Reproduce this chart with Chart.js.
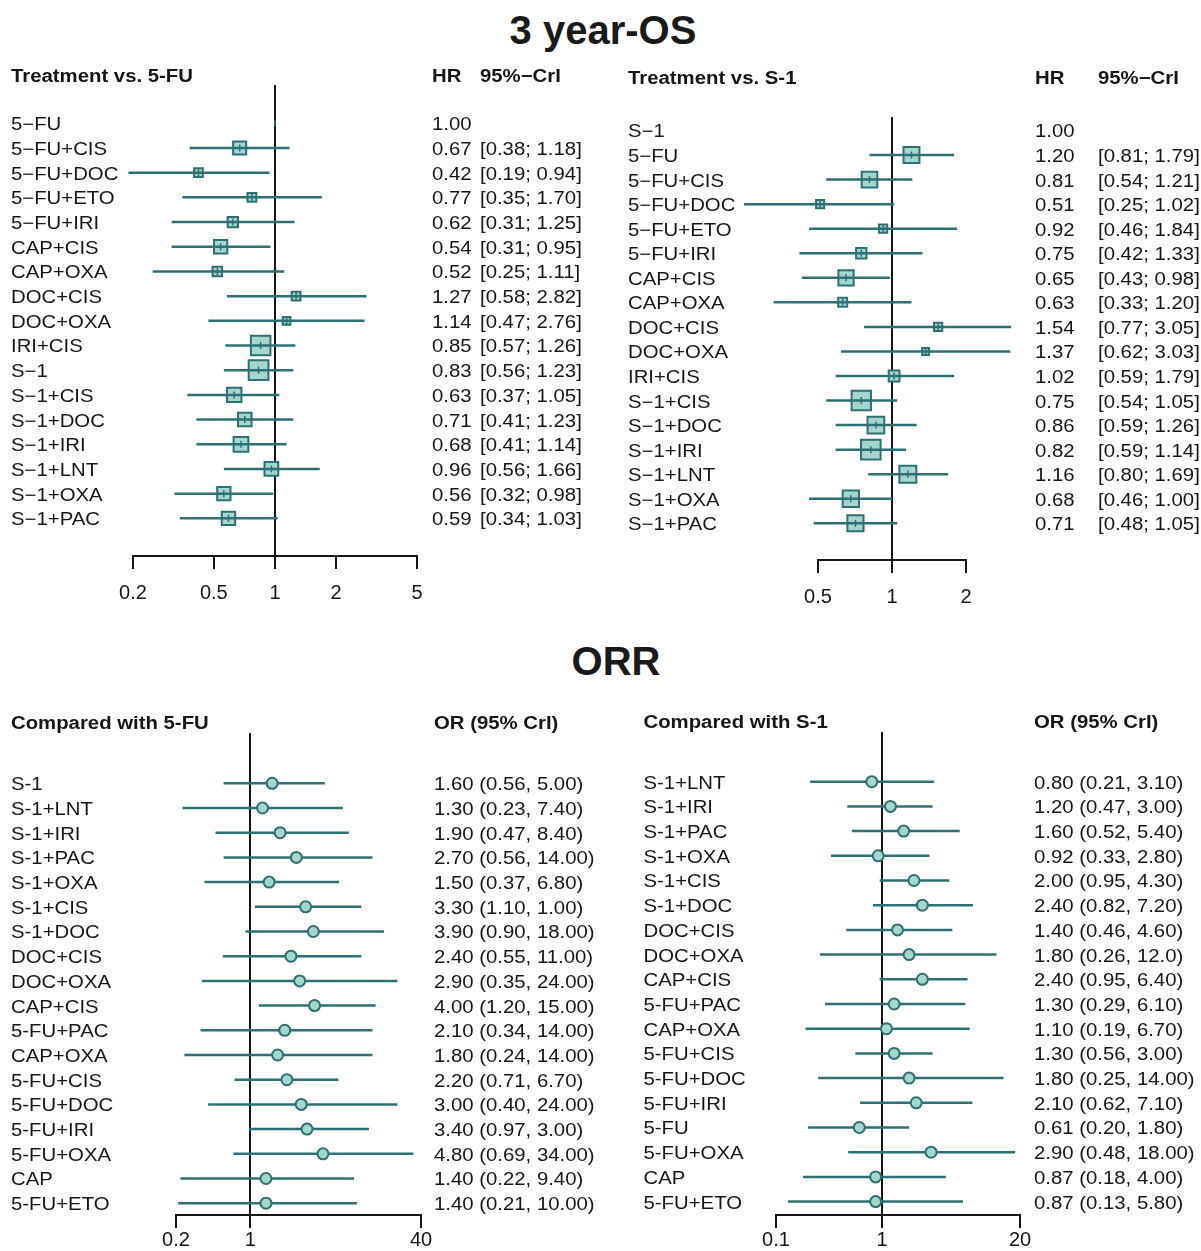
<!DOCTYPE html>
<html><head><meta charset="utf-8">
<script src="https://cdn.jsdelivr.net/npm/chart.js@4.4.1/dist/chart.umd.min.js"></script>
<style>
html,body{margin:0;padding:0;background:#fff;overflow:hidden;width:1201px;height:1251px;}
.title{position:absolute;font-family:"Liberation Sans",Arial,Helvetica,sans-serif;font-weight:bold;font-size:40px;line-height:40px;color:#1a1a1a;white-space:nowrap;transform:translateX(-50%);}
canvas{position:absolute;}
</style></head><body>
<div class="title" style="left:603px;top:10px">3 year-OS</div>
<div class="title" style="left:616px;top:641px">ORR</div>
<canvas id="osFu" width="600" height="556" style="left:0;top:60px"></canvas>
<canvas id="osS1" width="601" height="560" style="left:600px;top:60px"></canvas>
<canvas id="orrFu" width="600" height="561" style="left:0;top:690px"></canvas>
<canvas id="orrS1" width="601" height="561" style="left:600px;top:690px"></canvas>
<script>
// ---------- DATA ----------
// 3 year-OS: Treatment vs. 5-FU
const osFuLabels = ['5−FU','5−FU+CIS','5−FU+DOC','5−FU+ETO','5−FU+IRI','CAP+CIS','CAP+OXA','DOC+CIS','DOC+OXA','IRI+CIS','S−1','S−1+CIS','S−1+DOC','S−1+IRI','S−1+LNT','S−1+OXA','S−1+PAC'];
const osFuHR   = [1.00,0.67,0.42,0.77,0.62,0.54,0.52,1.27,1.14,0.85,0.83,0.63,0.71,0.68,0.96,0.56,0.59];
const osFuLow  = [null,0.38,0.19,0.35,0.31,0.31,0.25,0.58,0.47,0.57,0.56,0.37,0.41,0.41,0.56,0.32,0.34];
const osFuHigh = [null,1.18,0.94,1.70,1.25,0.95,1.11,2.82,2.76,1.26,1.23,1.05,1.23,1.14,1.66,0.98,1.03];
const osFuTicks = [0.2,0.5,1,2,5];

// 3 year-OS: Treatment vs. S-1
const osS1Labels = ['S−1','5−FU','5−FU+CIS','5−FU+DOC','5−FU+ETO','5−FU+IRI','CAP+CIS','CAP+OXA','DOC+CIS','DOC+OXA','IRI+CIS','S−1+CIS','S−1+DOC','S−1+IRI','S−1+LNT','S−1+OXA','S−1+PAC'];
const osS1HR   = [1.00,1.20,0.81,0.51,0.92,0.75,0.65,0.63,1.54,1.37,1.02,0.75,0.86,0.82,1.16,0.68,0.71];
const osS1Low  = [null,0.81,0.54,0.25,0.46,0.42,0.43,0.33,0.77,0.62,0.59,0.54,0.59,0.59,0.80,0.46,0.48];
const osS1High = [null,1.79,1.21,1.02,1.84,1.33,0.98,1.20,3.05,3.03,1.79,1.05,1.26,1.14,1.69,1.00,1.05];
const osS1Ticks = [0.5,1,2];

// ORR: Compared with 5-FU
const orrFuLabels = ['S-1','S-1+LNT','S-1+IRI','S-1+PAC','S-1+OXA','S-1+CIS','S-1+DOC','DOC+CIS','DOC+OXA','CAP+CIS','5-FU+PAC','CAP+OXA','5-FU+CIS','5-FU+DOC','5-FU+IRI','5-FU+OXA','CAP','5-FU+ETO'];
const orrFuOR   = [1.60,1.30,1.90,2.70,1.50,3.30,3.90,2.40,2.90,4.00,2.10,1.80,2.20,3.00,3.40,4.80,1.40,1.40];
const orrFuLow  = [0.56,0.23,0.47,0.56,0.37,1.10,0.90,0.55,0.35,1.20,0.34,0.24,0.71,0.40,0.97,0.69,0.22,0.21];
const orrFuHigh = [5.00,7.40,8.40,14.00,6.80,11.0,18.00,11.00,24.00,15.00,14.00,14.00,6.70,24.00,13.0,34.00,9.40,10.00];
const orrFuText = ['1.60 (0.56, 5.00)','1.30 (0.23, 7.40)','1.90 (0.47, 8.40)','2.70 (0.56, 14.00)','1.50 (0.37, 6.80)','3.30 (1.10, 1.00)','3.90 (0.90, 18.00)','2.40 (0.55, 11.00)','2.90 (0.35, 24.00)','4.00 (1.20, 15.00)','2.10 (0.34, 14.00)','1.80 (0.24, 14.00)','2.20 (0.71, 6.70)','3.00 (0.40, 24.00)','3.40 (0.97, 3.00)','4.80 (0.69, 34.00)','1.40 (0.22, 9.40)','1.40 (0.21, 10.00)'];
const orrFuTicks = [0.2,1,40];

// ORR: Compared with S-1
const orrS1Labels = ['S-1+LNT','S-1+IRI','S-1+PAC','S-1+OXA','S-1+CIS','S-1+DOC','DOC+CIS','DOC+OXA','CAP+CIS','5-FU+PAC','CAP+OXA','5-FU+CIS','5-FU+DOC','5-FU+IRI','5-FU','5-FU+OXA','CAP','5-FU+ETO'];
const orrS1OR   = [0.80,1.20,1.60,0.92,2.00,2.40,1.40,1.80,2.40,1.30,1.10,1.30,1.80,2.10,0.61,2.90,0.87,0.87];
const orrS1Low  = [0.21,0.47,0.52,0.33,0.95,0.82,0.46,0.26,0.95,0.29,0.19,0.56,0.25,0.62,0.20,0.48,0.18,0.13];
const orrS1High = [3.10,3.00,5.40,2.80,4.30,7.20,4.60,12.0,6.40,6.10,6.70,3.00,14.00,7.10,1.80,18.00,4.00,5.80];
const orrS1Text = ['0.80 (0.21, 3.10)','1.20 (0.47, 3.00)','1.60 (0.52, 5.40)','0.92 (0.33, 2.80)','2.00 (0.95, 4.30)','2.40 (0.82, 7.20)','1.40 (0.46, 4.60)','1.80 (0.26, 12.0)','2.40 (0.95, 6.40)','1.30 (0.29, 6.10)','1.10 (0.19, 6.70)','1.30 (0.56, 3.00)','1.80 (0.25, 14.00)','2.10 (0.62, 7.10)','0.61 (0.20, 1.80)','2.90 (0.48, 18.00)','0.87 (0.18, 4.00)','0.87 (0.13, 5.80)'];
const orrS1Ticks = [0.1,1,20];

// ---------- STYLE ----------
const TEAL = '#2e7074';
const FILL = '#a3d6cd';
const INK = '#161616';
const FONT = '"Liberation Sans", Arial, Helvetica, sans-serif';
const FS = 18, SX = 1.13, TY = 2;

function forest(id, p) {
  const n = p.labels.length;
  const g = p.geo;
  const yMin = (g.lineTop - g.row0) / g.step;
  const yMax = (g.axis - g.row0) / g.step;
  const idx = [...Array(n).keys()];
  const rows = idx.filter(i => p.low[i] != null);
  const ds = [];
  rows.forEach(i => ds.push({
    data: [{x: p.low[i], y: i}, {x: p.high[i], y: i}],
    showLine: true, borderColor: TEAL, borderWidth: 2.5, borderCapStyle: 'butt',
    pointRadius: 0, clip: false, order: 2
  }));
  if (p.marker === 'box') {
    ds.push({
      data: rows.map(i => ({x: p.est[i], y: i})),
      pointStyle: 'rect',
      pointRadius: rows.map(i => Math.max(2, p.boxK / Math.log(p.high[i] / p.low[i]) - 2) / Math.SQRT2),
      pointBackgroundColor: FILL, pointBorderColor: TEAL, pointBorderWidth: 2,
      clip: false, order: 3
    });
    const tickRows = p.refTick ? idx : rows;
    ds.push({
      data: tickRows.map(i => ({x: p.est[i], y: i})),
      pointStyle: 'line', pointRotation: 90, pointRadius: 3.5,
      pointBorderColor: TEAL, pointBorderWidth: 1.5,
      clip: false, order: 1
    });
  } else {
    ds.push({
      data: rows.map(i => ({x: p.est[i], y: i})),
      pointStyle: 'circle', pointRadius: 5.5,
      pointBackgroundColor: FILL, pointBorderColor: TEAL, pointBorderWidth: 2,
      clip: false, order: 1
    });
  }
  const textPlugin = {
    id: 'txt_' + id,
    afterDraw(chart) {
      const ctx = chart.ctx, ys = chart.scales.y;
      const put = (s, x, y, bold) => {
        ctx.save();
        ctx.font = (bold ? 'bold ' : '') + FS + 'px ' + FONT;
        ctx.fillStyle = INK; ctx.textBaseline = 'middle'; ctx.textAlign = 'left';
        ctx.translate(x, y + TY); ctx.scale(SX, 1); ctx.fillText(s, 0, 0);
        ctx.restore();
      };
      p.headers.forEach(h => put(h[0], h[1], p.headerY, true));
      idx.forEach(i => {
        const y = ys.getPixelForValue(i);
        put(p.labels[i], p.labelX, y, false);
        p.cols.forEach(c => { if (c.text[i]) put(c.text[i], c.x, y, false); });
      });
    }
  };
  return new Chart(document.getElementById(id), {
    type: 'scatter',
    data: { datasets: ds },
    options: {
      responsive: false, animation: false, devicePixelRatio: 1, events: [],
      layout: { padding: { left: p.padL, right: p.padR, top: g.lineTop - p.top, bottom: 0 } },
      plugins: { legend: { display: false }, tooltip: { enabled: false } },
      scales: {
        x: {
          type: 'logarithmic', position: 'bottom',
          min: p.ticks[0], max: p.ticks[p.ticks.length - 1],
          afterBuildTicks: s => { s.ticks = p.ticks.map(v => ({ value: v })); },
          afterFit: s => { s.height = p.xh; },
          grid: {
            display: true, drawOnChartArea: true, drawTicks: true, tickLength: 13, lineWidth: 2,
            color: c => (c.tick && c.tick.value === 1) ? INK : 'rgba(0,0,0,0)', tickColor: INK
          },
          border: { display: true, color: INK, width: 2 },
          ticks: { padding: p.tickPad, color: INK, font: { family: FONT, size: 20 }, autoSkip: false, maxRotation: 0, minRotation: 0, callback: v => String(v) }
        },
        y: { type: 'linear', reverse: true, min: yMin, max: yMax, display: false }
      }
    },
    plugins: [textPlugin]
  });
}

const fmt = v => v.toFixed(2);

forest('osFu', {
  labels: osFuLabels, est: osFuHR, low: osFuLow, high: osFuHigh, ticks: osFuTicks,
  marker: 'box', boxK: 17.1, refTick: true,
  top: 60, geo: { lineTop: 85, row0: 123.3, step: 24.69, axis: 556 },
  padL: 133, padR: 183, xh: 60, tickPad: 12,
  headerY: 15, labelX: 11,
  headers: [['Treatment vs. 5-FU', 11], ['HR', 432], ['95%−CrI', 480]],
  cols: [
    { x: 432, text: osFuHR.map(fmt) },
    { x: 480, text: osFuLow.map((v, i) => v == null ? '' : '[' + fmt(v) + '; ' + fmt(osFuHigh[i]) + ']') }
  ]
});

forest('osS1', {
  labels: osS1Labels, est: osS1HR, low: osS1Low, high: osS1High, ticks: osS1Ticks,
  marker: 'box', boxK: 14.2, refTick: false,
  top: 60, geo: { lineTop: 117, row0: 130.5, step: 24.55, axis: 560 },
  padL: 218, padR: 235, xh: 60, tickPad: 12,
  headerY: 16.7, labelX: 28,
  headers: [['Treatment vs. S-1', 28], ['HR', 435], ['95%−CrI', 498]],
  cols: [
    { x: 435, text: osS1HR.map(fmt) },
    { x: 498, text: osS1Low.map((v, i) => v == null ? '' : '[' + fmt(v) + '; ' + fmt(osS1High[i]) + ']') }
  ]
});

forest('orrFu', {
  labels: orrFuLabels, est: orrFuOR, low: orrFuLow, high: orrFuHigh, ticks: orrFuTicks,
  marker: 'circle',
  top: 690, geo: { lineTop: 733, row0: 783.3, step: 24.7, axis: 1215 },
  padL: 176, padR: 179, xh: 36, tickPad: 0,
  headerY: 32, labelX: 11,
  headers: [['Compared with 5-FU', 11], ['OR (95% CrI)', 434]],
  cols: [{ x: 434, text: orrFuText }]
});

forest('orrS1', {
  labels: orrS1Labels, est: orrS1OR, low: orrS1Low, high: orrS1High, ticks: orrS1Ticks,
  marker: 'circle',
  top: 690, geo: { lineTop: 732, row0: 781.7, step: 24.7, axis: 1215 },
  padL: 176, padR: 181, xh: 36, tickPad: 0,
  headerY: 31, labelX: 43.5,
  headers: [['Compared with S-1', 43.5], ['OR (95% CrI)', 434]],
  cols: [{ x: 434, text: orrS1Text }]
});
</script>
</body></html>
